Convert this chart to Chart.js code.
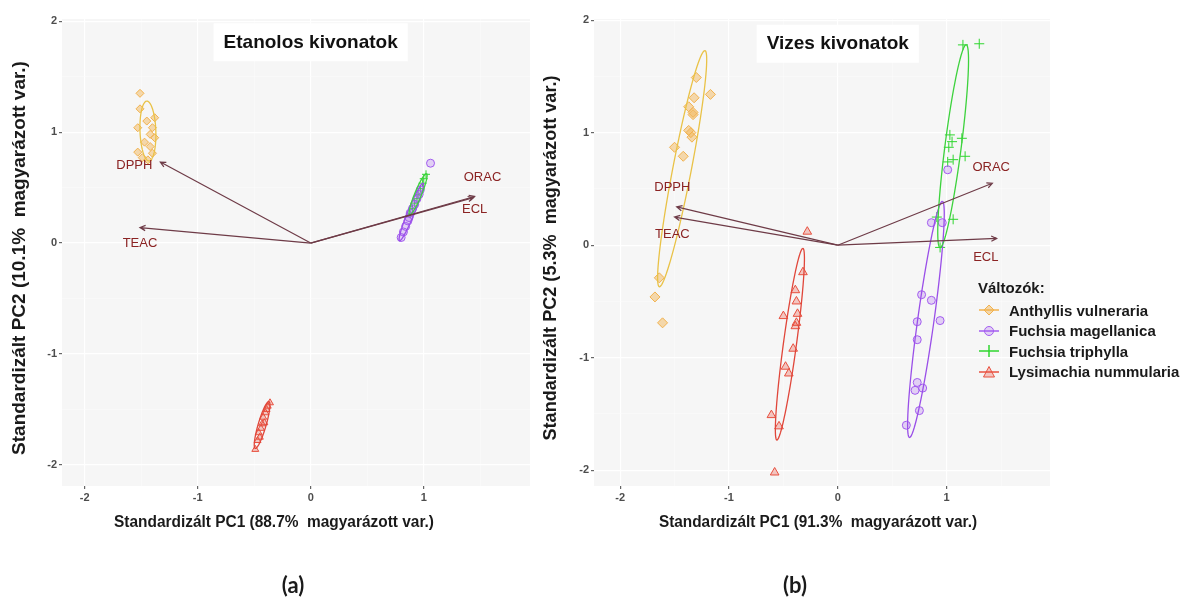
<!DOCTYPE html>
<html lang="hu">
<head>
<meta charset="utf-8">
<title>PCA biplot — etanolos és vizes kivonatok</title>
<script src="https://cdn.jsdelivr.net/npm/chart.js@4.4.1/dist/chart.umd.min.js"></script>
<style>
  body { margin: 0; background: #fff; width: 1195px; height: 604px; overflow: hidden; position: relative; }
  #ca { position: absolute; left: 0; top: 0; }
  #cb { position: absolute; left: 540px; top: 0; }
  #legenda { position: absolute; left: 978px; top: 279px; font: bold 15px "Liberation Sans", Arial, sans-serif; color: #1a1a1a; }
  #legenda .cim { margin-bottom: 4px; }
  #legenda .tetel { display: flex; align-items: center; height: 20.5px; }
  #legenda svg { margin-right: 9px; }
</style>
</head>
<body>
<canvas id="ca" width="540" height="604"></canvas>
<canvas id="cb" width="655" height="604"></canvas>
<div id="legenda"></div>

<script>
// ─── Közös adatok ─────────────────────────────────────────────────────────────
const FAJOK    = ['Anthyllis vulneraria', 'Fuchsia magellanica', 'Fuchsia triphylla', 'Lysimachia nummularia'];
const VALTOZOK = ['DPPH', 'TEAC', 'ORAC', 'ECL'];
const RACS     = [-2, -1.5, -1, -0.5, 0, 0.5, 1, 1.5, 2];   // fő + mellék rácsvonalak

// ─── (a) Etanolos kivonatok — pontok [PC1, PC2] ──────────────────────────────
const A_ANTHYLLIS = [[-1.51,1.35],[-1.51,1.21],[-1.38,1.13],[-1.40,1.04],[-1.53,1.04],[-1.38,0.95],[-1.47,0.91],
                     [-1.42,0.87],[-1.53,0.82],[-1.40,0.81],[-1.49,0.77],[-1.44,0.75],[-1.45,1.10],[-1.42,0.98]];
const A_MAGELLANICA = [[0.80,0.05],[0.82,0.10],[0.84,0.15],[0.86,0.20],[0.87,0.23],[0.88,0.27],[0.90,0.31],
                       [0.92,0.35],[0.94,0.40],[0.96,0.44],[0.97,0.48],[1.06,0.72]];
const A_TRIPHYLLA = [[0.88,0.26],[0.90,0.31],[0.92,0.36],[0.94,0.40],[0.95,0.44],[0.97,0.49],[0.99,0.54],
                     [1.00,0.58],[1.02,0.62]];
const A_LYSIMACHIA = [[-0.49,-1.86],[-0.47,-1.78],[-0.45,-1.75],[-0.46,-1.71],[-0.44,-1.67],[-0.43,-1.63],
                      [-0.41,-1.62],[-0.42,-1.57],[-0.40,-1.53],[-0.39,-1.50],[-0.38,-1.47],[-0.36,-1.44]];
// változó-vektorok végpontjai és a címkék helye
const A_NYILAK  = [[-1.33,0.73],[-1.51,0.14],[1.45,0.42],[1.44,0.41]];
const A_CIMKEK  = [[-1.56,0.70],[-1.51,0.00],[1.52,0.59],[1.45,0.30]];
// konfidencia-ellipszisek: [közép x, közép y, fél nagytengely, fél kistengely, szög°]
const A_ELLIPSZISEK = [[-1.44,1.01,0.27,0.07,92],[0.89,0.28,0.28,0.03,68],[0.95,0.44,0.20,0.03,68],[-0.43,-1.64,0.22,0.035,74]];

// ─── (b) Vizes kivonatok ──────────────────────────────────────────────────────
const B_ANTHYLLIS = [[-1.30,1.49],[-1.17,1.34],[-1.32,1.31],[-1.37,1.23],[-1.33,1.16],[-1.37,1.02],[-1.34,0.96],
                     [-1.50,0.87],[-1.42,0.79],[-1.64,-0.29],[-1.68,-0.46],[-1.61,-0.69],[-1.35,1.00],[-1.33,1.18]];
const B_MAGELLANICA = [[1.01,0.67],[0.86,0.20],[0.96,0.20],[0.77,-0.44],[0.86,-0.49],[0.73,-0.68],[0.94,-0.67],
                       [0.73,-0.84],[0.71,-1.29],[0.78,-1.27],[0.75,-1.47],[0.63,-1.60],[0.73,-1.22]];
const B_TRIPHYLLA = [[1.15,1.78],[1.30,1.79],[1.14,0.95],[1.05,0.92],[1.02,0.87],[1.06,0.76],[1.01,0.74],
                     [1.17,0.79],[0.91,0.25],[1.06,0.23],[0.94,-0.02],[1.03,0.98]];
const B_LYSIMACHIA = [[-0.28,0.12],[-0.32,-0.24],[-0.39,-0.40],[-0.38,-0.50],[-0.37,-0.61],[-0.50,-0.63],[-0.39,-0.72],
                      [-0.41,-0.92],[-0.48,-1.08],[-0.45,-1.14],[-0.61,-1.51],[-0.54,-1.61],[-0.58,-2.02],[-0.38,-0.69]];
const B_NYILAK  = [[-1.48,0.34],[-1.50,0.25],[1.42,0.55],[1.46,0.06]];
const B_CIMKEK  = [[-1.52,0.51],[-1.52,0.10],[1.41,0.69],[1.36,-0.11]];
const B_ELLIPSZISEK = [[-1.43,0.68,1.07,0.085,78.7],[0.81,-0.66,1.06,0.075,81.8],[1.06,0.88,0.91,0.075,82.4],[-0.44,-0.88,0.86,0.06,82]];

// ─── Stílusok fajonként ──────────────────────────────────────────────────────
const STILUS = [
  { pont: 'rectRot',  szin: '#f2b24e', kitoltes: 'rgba(242,178,78,.45)',  ellipszis: '#e9c247', r: 5 },
  { pont: 'circle',   szin: '#a35cf0', kitoltes: 'rgba(163,92,240,.25)',  ellipszis: '#9a4fe8', r: 4 },
  { pont: 'cross',    szin: '#2fd62f', kitoltes: 'rgba(47,214,47,.4)',    ellipszis: '#3dd23d', r: 5 },
  { pont: 'triangle', szin: '#e8503f', kitoltes: 'rgba(232,80,63,.3)',    ellipszis: '#e0463a', r: 5 },
];
const NYIL_SZIN   = '#6e3b47';
const CIMKE_SZIN  = '#8b2323';
const CIM_FONT    = '"Liberation Sans Narrow", "Liberation Sans", Arial, sans-serif';

// ─── Biplot plugin: háttér, ellipszisek, nyilak, feliratok ──────────────────
const biplot = {
  id: 'biplot',
  beforeDraw(chart) {
    const { ctx, chartArea: a } = chart;
    ctx.save();
    ctx.fillStyle = '#f6f6f6';
    ctx.fillRect(a.left, a.top, a.right - a.left, a.bottom - a.top);
    ctx.restore();
  },
  afterDatasetsDraw(chart, args, o) {
    const { ctx, scales: { x: xs, y: ys } } = chart;
    ctx.save();
    // ellipszisek
    o.ellipszisek.forEach(([cx, cy, ra, rb, fok], i) => {
      const r = fok * Math.PI / 180;
      ctx.strokeStyle = STILUS[i].ellipszis;
      ctx.lineWidth = 1.3;
      ctx.beginPath();
      for (let k = 0; k <= 90; k++) {
        const t = k / 90 * 2 * Math.PI;
        const dx = ra * Math.cos(t), dy = rb * Math.sin(t);
        const px = xs.getPixelForValue(cx + dx * Math.cos(r) - dy * Math.sin(r));
        const py = ys.getPixelForValue(cy + dx * Math.sin(r) + dy * Math.cos(r));
        k ? ctx.lineTo(px, py) : ctx.moveTo(px, py);
      }
      ctx.stroke();
    });
    // változó-nyilak
    const x0 = xs.getPixelForValue(0), y0 = ys.getPixelForValue(0);
    ctx.strokeStyle = NYIL_SZIN;
    ctx.lineWidth = 1.2;
    o.nyilak.forEach(([vx, vy]) => {
      const x1 = xs.getPixelForValue(vx), y1 = ys.getPixelForValue(vy);
      const sz = Math.atan2(y1 - y0, x1 - x0);
      ctx.beginPath();
      ctx.moveTo(x0, y0);
      ctx.lineTo(x1, y1);
      ctx.moveTo(x1 - 6 * Math.cos(sz - 0.45), y1 - 6 * Math.sin(sz - 0.45));
      ctx.lineTo(x1, y1);
      ctx.lineTo(x1 - 6 * Math.cos(sz + 0.45), y1 - 6 * Math.sin(sz + 0.45));
      ctx.stroke();
    });
    ctx.restore();
  },
  afterDraw(chart, args, o) {
    const { ctx, scales: { x: xs, y: ys } } = chart;
    ctx.save();
    ctx.textAlign = 'center';
    ctx.textBaseline = 'middle';
    // változónevek
    ctx.fillStyle = CIMKE_SZIN;
    ctx.font = '13px "Liberation Sans", Arial, sans-serif';
    o.cimkek.forEach(([cx, cy], i) => ctx.fillText(VALTOZOK[i], xs.getPixelForValue(cx), ys.getPixelForValue(cy)));
    // panel címe fehér dobozban
    ctx.font = `bold 19px "Liberation Sans", Arial, sans-serif`;
    const tx = xs.getPixelForValue(0), ty = ys.getPixelForValue(o.cimY);
    const w = ctx.measureText(o.cim).width + 20;
    ctx.fillStyle = '#fff';
    ctx.fillRect(tx - w / 2, ty - 19, w, 38);
    ctx.fillStyle = '#111';
    ctx.fillText(o.cim, tx, ty);
    // tengelycímek
    ctx.fillStyle = '#1a1a1a';
    ctx.font = `bold 16px ${CIM_FONT}`;
    ctx.fillText(o.xCim, o.xCimPos[0], o.xCimPos[1], o.xCimW);
    ctx.save();
    ctx.translate(o.yCimPos[0], o.yCimPos[1]);
    ctx.rotate(-Math.PI / 2);
    ctx.font = `bold 19px ${CIM_FONT}`;
    ctx.fillText(o.yCim, 0, 0, o.yCimW);
    ctx.restore();
    // (a) / (b)
    ctx.font = 'bold 22px Lato, "Open Sans", sans-serif';
    ctx.fillText(o.betu, o.betuPos[0], o.betuPos[1]);
    ctx.restore();
  },
};

// ─── Panel létrehozása ───────────────────────────────────────────────────────
function tengely(min, max, meret, irany) {
  const racs = RACS.filter(v => v >= min && v <= max);
  return {
    type: 'linear', min, max,
    afterBuildTicks: s => { s.ticks = racs.map(v => ({ value: v })); },
    afterFit: s => { if (irany === 'x') s.height = meret; else s.width = meret; },
    border: { display: false },
    grid: {
      color: c => Number.isInteger(c.tick?.value) ? '#ffffff' : '#fbfbfb',
      lineWidth: c => Number.isInteger(c.tick?.value) ? 1.2 : 0.6,
      tickColor: c => Number.isInteger(c.tick?.value) ? '#666' : 'rgba(0,0,0,0)',
      tickLength: 3,
    },
    ticks: {
      autoSkip: false, maxRotation: 0, padding: 2,
      color: '#4d4d4d',
      font: { size: 11, weight: 'bold', family: '"Liberation Sans", Arial, sans-serif' },
      callback: v => Number.isInteger(v) ? String(v) : '',
    },
  };
}

function ujPanel(id, pontok, beallitas) {
  const datasets = pontok.map((p, i) => ({
    label: FAJOK[i],
    data: p.map(([x, y]) => ({ x, y })),
    pointStyle: STILUS[i].pont,
    pointRadius: beallitas.pontMeret ?? STILUS[i].r,
    backgroundColor: STILUS[i].kitoltes,
    borderColor: STILUS[i].szin,
    borderWidth: 1,
  }));
  return new Chart(document.getElementById(id), {
    type: 'scatter',
    data: { datasets },
    options: {
      responsive: false,
      animation: false,
      layout: { padding: beallitas.padding },
      scales: {
        x: tengely(beallitas.x[0], beallitas.x[1], beallitas.xMeret, 'x'),
        y: tengely(beallitas.y[0], beallitas.y[1], beallitas.yMeret, 'y'),
      },
      plugins: {
        legend: { display: false },
        tooltip: { enabled: false },
        biplot: beallitas.biplot,
      },
    },
    plugins: [biplot],
  });
}

// ─── (a) ─────────────────────────────────────────────────────────────────────
ujPanel('ca', [A_ANTHYLLIS, A_MAGELLANICA, A_TRIPHYLLA, A_LYSIMACHIA], {
  x: [-2.2, 1.94], y: [-2.19, 2.02],
  padding: { top: 19, right: 10, left: 0, bottom: 0 },
  xMeret: 118, yMeret: 62, pontMeret: 4,
  biplot: {
    ellipszisek: A_ELLIPSZISEK, nyilak: A_NYILAK, cimkek: A_CIMKEK,
    cim: 'Etanolos kivonatok', cimY: 1.81,
    xCim: 'Standardizált PC1 (88.7%  magyarázott var.)', xCimPos: [274, 523], xCimW: 320,
    yCim: 'Standardizált PC2 (10.1%  magyarázott var.)', yCimPos: [20, 258], yCimW: 395,
    betu: '(a)', betuPos: [293, 586],
  },
});

// ─── (b) ─────────────────────────────────────────────────────────────────────
ujPanel('cb', [B_ANTHYLLIS, B_MAGELLANICA, B_TRIPHYLLA, B_LYSIMACHIA], {
  x: [-2.24, 1.95], y: [-2.14, 2.01],
  padding: { top: 19, right: 145, left: 0, bottom: 0 },
  xMeret: 118, yMeret: 54,
  biplot: {
    ellipszisek: B_ELLIPSZISEK, nyilak: B_NYILAK, cimkek: B_CIMKEK,
    cim: 'Vizes kivonatok', cimY: 1.79,
    xCim: 'Standardizált PC1 (91.3%  magyarázott var.)', xCimPos: [278, 523], xCimW: 318,
    yCim: 'Standardizált PC2 (5.3%  magyarázott var.)', yCimPos: [11, 258], yCimW: 365,
    betu: '(b)', betuPos: [255, 586],
  },
});

// ─── Jelmagyarázat ───────────────────────────────────────────────────────────
const JEL_ALAK = [
  s => `<path d="M11 2 L16 7 L11 12 L6 7Z" fill="${s.kitoltes}" stroke="${s.szin}"/>`,
  s => `<circle cx="11" cy="7" r="4.5" fill="${s.kitoltes}" stroke="${s.szin}"/>`,
  s => `<path d="M11 1 V13" stroke="${s.szin}" stroke-width="1.5"/>`,
  s => `<path d="M11 1.5 L16.5 12 L5.5 12Z" fill="${s.kitoltes}" stroke="${s.szin}"/>`,
];
document.getElementById('legenda').innerHTML =
  '<div class="cim">Változók:</div>' +
  FAJOK.map((nev, i) => `
    <div class="tetel">
      <svg width="22" height="14"><line x1="1" y1="7" x2="21" y2="7" stroke="${STILUS[i].szin}" stroke-width="1.5"/>${JEL_ALAK[i](STILUS[i])}</svg>${nev}
    </div>`).join('');
</script>
</body>
</html>
